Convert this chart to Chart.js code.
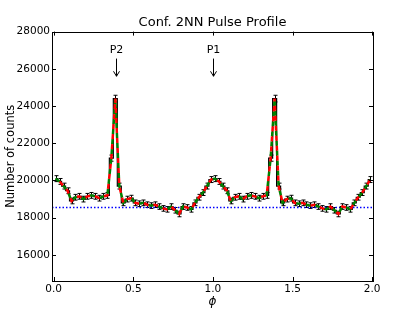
<!DOCTYPE html>
<html>
<head>
<meta charset="utf-8">
<script src="https://cdn.jsdelivr.net/npm/chart.js@4.4.1/dist/chart.umd.min.js"></script>
<style>
  html, body { margin: 0; padding: 0; background: #fff; }
</style>
</head>
<body>
<canvas id="myChart" width="415" height="312"></canvas>
<script>
// one rotation of the pulse, 40 phase bins; the plot shows it twice (0-2)
const binCount = 40;
const counts = [
  20100, 19950, 19700, 19450, 18900, 19100, 19150, 19000, 19150, 19200,
  19150, 19050, 19150, 19200, 21200, 24400, 19700, 18800, 19000, 19050,
  18800, 18750, 18800, 18700, 18650, 18700, 18600, 18500, 18450, 18600,
  18400, 18200, 18600, 18550, 18450, 18800, 19100, 19350, 19700, 20050
];
const errs = [
  160, 158, 157, 156, 152, 154, 155, 153, 155, 156,
  155, 154, 155, 156, 165, 180, 158, 152, 154, 155,
  152, 152, 152, 151, 151, 151, 150, 150, 149, 150,
  149, 148, 150, 150, 149, 152, 154, 156, 158, 160
];
const baseline = 18550;   // blue dotted background level
const xTicks = [0, 0.5, 1.0, 1.5, 2.0];
const yTicks = [16000, 18000, 20000, 22000, 24000, 26000, 28000];
const peakLabels = ['P2', 'P1'];
const peakPhase = [0.39, 1.0];

// two cycles
const phase = [];
const allCounts = [];
const allErrs = [];
for (let c = 0; c < 2; c++) {
  for (let i = 0; i < binCount; i++) {
    phase.push(c + (i + 0.5) / binCount);
    allCounts.push(counts[i]);
    allErrs.push(errs[i]);
  }
}
const pts = phase.map((p, i) => ({x: p, y: allCounts[i]}));

const FONT = 'DejaVu Sans';

//error bars, frame, inward ticks and the P1/P2 arrows
const extras = {
  id: 'extras',
  beforeDatasetsDraw(chart) {
    const {ctx, chartArea: a, scales: {x, y}} = chart;
    ctx.save();
    ctx.beginPath();
    ctx.rect(a.left, a.top, a.right - a.left, a.bottom - a.top);
    ctx.clip();
    ctx.strokeStyle = '#000';
    ctx.lineWidth = 1;
    ctx.beginPath();
    phase.forEach((p, i) => {
      const px = Math.round(x.getPixelForValue(p)) + 0.5;
      const top = y.getPixelForValue(allCounts[i] + allErrs[i]);
      const bot = y.getPixelForValue(allCounts[i] - allErrs[i]);
      ctx.moveTo(px, top); ctx.lineTo(px, bot);
      ctx.moveTo(px - 2, top); ctx.lineTo(px + 2, top);
      ctx.moveTo(px - 2, bot); ctx.lineTo(px + 2, bot);
    });
    ctx.stroke();
    ctx.restore();
  },
  afterDraw(chart) {
    const {ctx, chartArea: a, scales: {x, y}} = chart;
    ctx.save();
    ctx.strokeStyle = '#000';
    ctx.lineWidth = 1;
    ctx.strokeRect(Math.round(a.left) + 0.5, Math.round(a.top) + 0.5,
      Math.round(a.right - a.left), Math.round(a.bottom - a.top));
    ctx.beginPath();
    xTicks.forEach(v => {
      const px = Math.round(x.getPixelForValue(v)) + 0.5;
      ctx.moveTo(px, a.bottom); ctx.lineTo(px, a.bottom - 4);
      ctx.moveTo(px, a.top); ctx.lineTo(px, a.top + 4);
    });
    yTicks.forEach(v => {
      const py = Math.round(y.getPixelForValue(v)) + 0.5;
      ctx.moveTo(a.left, py); ctx.lineTo(a.left + 4, py);
      ctx.moveTo(a.right, py); ctx.lineTo(a.right - 4, py);
    });
    ctx.stroke();

    // peak labels with arrows
    ctx.fillStyle = '#000';
    ctx.font = '11px "' + FONT + '"';
    ctx.textAlign = 'center';
    ctx.textBaseline = 'middle';
    peakLabels.forEach((lab, i) => {
      const px = Math.round(x.getPixelForValue(peakPhase[i])) + 0.5;
      ctx.fillText(lab, px, y.getPixelForValue(27000));
      const y0 = y.getPixelForValue(26550);
      const y1 = y.getPixelForValue(25600);
      ctx.beginPath();
      ctx.moveTo(px, y0); ctx.lineTo(px, y1);
      ctx.moveTo(px - 3, y1 - 5); ctx.lineTo(px, y1); ctx.lineTo(px + 3, y1 - 5);
      ctx.stroke();
    });
    ctx.restore();
  }
};

const config = {
  type: 'line',
  data: {
    datasets: [
      { //data line, red dashes
        data: pts,
        borderColor: '#ff0000',
        borderWidth: 2.5,
        borderDash: [5, 5],
        borderDashOffset: 5,
        pointRadius: 0,
        fill: false
      },
      { //fit, green dashes
        data: pts,
        borderColor: '#008000',
        borderWidth: 2.5,
        borderDash: [5, 5],
        pointRadius: 0,
        fill: false
      },
      { //histogram steps
        data: pts,
        borderColor: '#000',
        borderWidth: 1.2,
        stepped: 'middle',
        pointRadius: 0,
        fill: false
      },
      { //background level
        data: [{x: -0.01, y: baseline}, {x: 2.005, y: baseline}],
        borderColor: '#0000ff',
        borderWidth: 1.5,
        borderDash: [1.5, 2],
        pointRadius: 0,
        fill: false
      }
    ]
  },
  options: {
    responsive: false,
    animation: false,
    layout: { padding: { left: 4, right: 42, top: 0, bottom: 0 } },
    plugins: {
      legend: { display: false },
      tooltip: { enabled: false },
      title: {
        display: true,
        fullSize: false,
        text: 'Conf. 2NN Pulse Profile',
        color: '#000',
        font: { family: FONT, size: 13, weight: 'normal' },
        padding: { top: 15, bottom: 1 }
      }
    },
    scales: {
      x: {
        type: 'linear',
        min: -0.01,
        max: 2.005,
        afterBuildTicks: s => { s.ticks = xTicks.map(v => ({value: v})); },
        afterFit: s => { s.height = 31; },
        grid: { display: false, drawTicks: false },
        border: { display: false },
        ticks: {
          color: '#000',
          padding: 2,
          font: { family: FONT, size: 10.5 },
          callback: v => v.toFixed(1),
          maxRotation: 0
        },
        title: {
          display: true,
          text: 'ϕ',
          color: '#000',
          font: { family: FONT, size: 12, style: 'italic' },
          padding: { top: 0, bottom: 3 }
        }
      },
      y: {
        min: 14600,
        max: 28000,
        afterBuildTicks: s => { s.ticks = yTicks.map(v => ({value: v})); },
        afterFit: s => { s.width = 48; },
        grid: { display: false, drawTicks: false },
        border: { display: false },
        ticks: {
          color: '#000',
          padding: 2,
          font: { family: FONT, size: 10.5 },
          callback: v => String(v)
        },
        title: {
          display: true,
          text: 'Number of counts',
          color: '#000',
          font: { family: FONT, size: 11.5 },
          padding: { top: 0, bottom: 0 }
        }
      }
    }
  },
  plugins: [extras]
};

const myChart = new Chart(document.getElementById('myChart'), config);
</script>
</body>
</html>
